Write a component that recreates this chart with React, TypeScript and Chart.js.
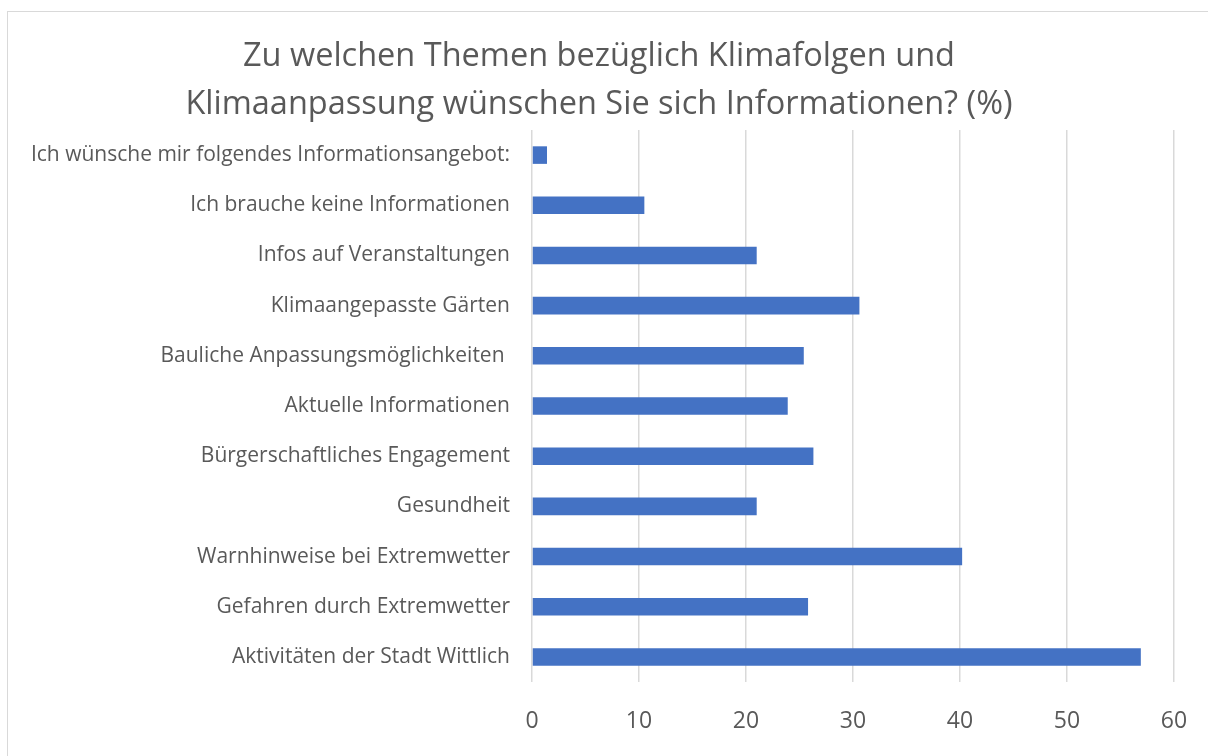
import React, { useEffect, useRef } from "react";
import { Chart, registerables } from "chart.js";

Chart.register(...registerables);

const categories = [
  "Ich wünsche mir folgendes Informationsangebot:",
  "Ich brauche keine Informationen",
  "Infos auf Veranstaltungen",
  "Klimaangepasste Gärten",
  "Bauliche Anpassungsmöglichkeiten ",
  "Aktuelle Informationen",
  "Bürgerschaftliches Engagement",
  "Gesundheit",
  "Warnhinweise bei Extremwetter",
  "Gefahren durch Extremwetter",
  "Aktivitäten der Stadt Wittlich",
];

const values = [1.4, 10.5, 21.0, 30.6, 25.4, 23.9, 26.3, 21.0, 40.2, 25.8, 56.9];

const titleLines = [
  "Zu welchen Themen bezüglich Klimafolgen und",
  "Klimaanpassung wünschen Sie sich Informationen? (%)",
];

const xMin = 0;
const xMax = 60;
const xStep = 10;

const FONT = "'Open Sans', Lato, sans-serif";
const TEXT = "#595959";

export default function App() {
  const ref = useRef<HTMLCanvasElement | null>(null);

  useEffect(() => {
    if (!ref.current) return;
    const chart = new Chart(ref.current, {
      type: "bar",
      data: {
        labels: categories,
        datasets: [
          {
            data: values,
            backgroundColor: "#4472C4",
            borderWidth: 0,
            barPercentage: 0.7,
            categoryPercentage: 0.5,
          },
        ],
      },
      options: {
        indexAxis: "y",
        animation: false,
        responsive: false,
        maintainAspectRatio: false,
        layout: { padding: { left: 24, right: 34, top: 0, bottom: 19 } },
        plugins: {
          legend: { display: false },
          tooltip: { enabled: false },
          title: {
            display: true,
            text: titleLines,
            color: TEXT,
            font: { family: FONT, size: 32.5, weight: "normal", lineHeight: "48px" },
            padding: { top: 33, bottom: 1 },
          },
        },
        scales: {
          x: {
            min: xMin,
            max: xMax,
            ticks: {
              stepSize: xStep,
              color: TEXT,
              font: { family: FONT, size: 23 },
              padding: 26,
            },
            grid: { color: "#d9d9d9", lineWidth: 1.5, drawTicks: false },
            border: { display: false },
            afterFit: (scale: any) => {
              scale.height = 55;
              scale.paddingRight = 0;
              scale.paddingLeft = 0;
            },
          },
          y: {
            ticks: {
              color: TEXT,
              font: { family: FONT, size: 21 },
              padding: 22,
              autoSkip: false,
            },
            grid: { display: false, drawTicks: false },
            border: { display: false },
            afterFit: (scale: any) => {
              scale.width = 508;
              scale.paddingTop = 0;
              scale.paddingBottom = 0;
            },
          },
        },
      },
    });
    return () => chart.destroy();
  }, []);

  return (
    <div style={{ position: "fixed", inset: 0, overflow: "hidden", background: "#fff" }}>
      <div
        style={{
          position: "absolute",
          left: 7,
          top: 11,
          width: 1400,
          height: 1000,
          border: "1px solid #d9d9d9",
        }}
      />
      <canvas
        ref={ref}
        width={1208}
        height={756}
        style={{ position: "absolute", left: 0, top: 0, width: 1208, height: 756 }}
      />
    </div>
  );
}
